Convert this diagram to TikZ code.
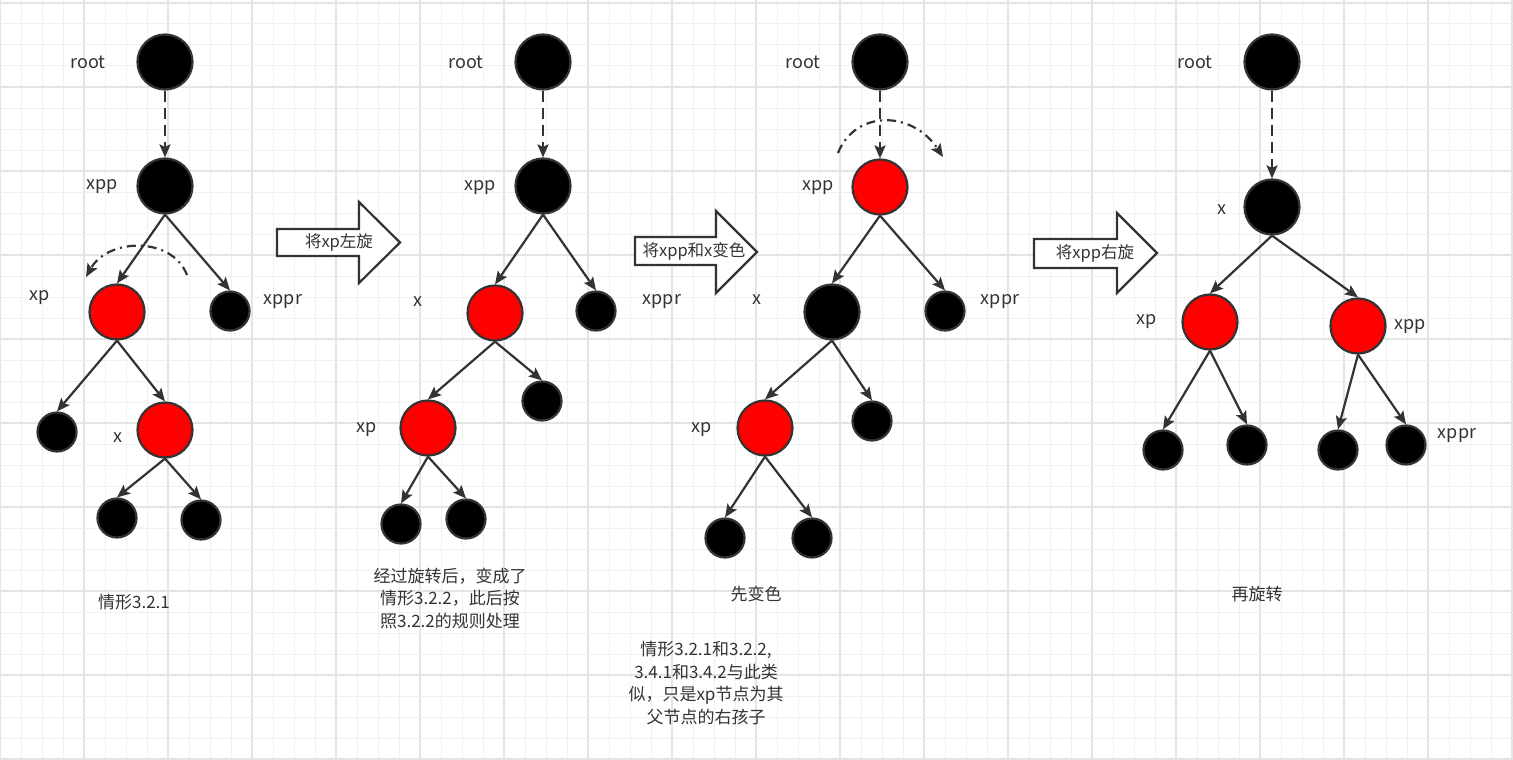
\documentclass[tikz,border=0pt]{standalone}
\usepackage{fontspec}
\setmainfont{Noto Sans CJK SC}
\usetikzlibrary{arrows.meta}
\definecolor{ink}{HTML}{333333}
\definecolor{gminor}{HTML}{F0F0F0}
\definecolor{gmajor}{HTML}{E4E4E4}
\begin{document}
\begin{tikzpicture}[x=1pt,y=-1pt,
  gridminor/.style={draw=gminor, line width=1pt},
  gridmajor/.style={draw=gmajor, line width=1.4pt},
  nd/.style={circle, draw=ink, line width=2.2pt, inner sep=0pt, minimum size=55pt},
  bn/.style={nd, fill=black},
  rn/.style={nd, fill=red},
  sn/.style={nd, fill=black, minimum size=39pt},
  lbl/.style={text=ink, font=\fontsize{18}{20}\selectfont, inner sep=0pt},
  captext/.style={text=ink, font=\fontsize{17}{22.5}\selectfont, align=center, inner sep=0pt},
  atext/.style={text=ink, font=\fontsize{16.5}{18}\selectfont, inner sep=0pt},
  edge/.style={draw=ink, line width=2.2pt, -{Stealth[length=13pt,width=11pt,inset=2.5pt]}},
  dedge/.style={edge, dash pattern=on 11pt off 6pt},
  rot/.style={draw=ink, line width=2.2pt, dash pattern=on 9pt off 5pt on 2pt off 5pt, -{Stealth[length=13pt,width=11pt,inset=2.5pt]}},
  barrow/.style={draw=ink, line width=2.2pt, fill=white, line join=miter}
]
\useasboundingbox (0,0) rectangle (1513,760);
\fill[white] (0,0) rectangle (1513,760);
% grid
\foreach \k in {0,...,72} {
  \pgfmathtruncatemacro{\m}{mod(\k,4)}
  \ifnum\m=0 \draw[gridmajor] (21*\k,0) -- (21*\k,760);
  \else \draw[gridminor] (21*\k,0) -- (21*\k,760); \fi
}
\foreach \k in {0,...,36} {
  \pgfmathtruncatemacro{\m}{mod(\k,4)}
  \ifnum\m=0 \draw[gridmajor] (0,3+21*\k) -- (1513,3+21*\k);
  \else \draw[gridminor] (0,3+21*\k) -- (1513,3+21*\k); \fi
}

% ---------------- Panel 1 ----------------
\node[bn] (r1) at (165,62) {};
\node[bn] (xpp1) at (165,186) {};
\node[rn] (xp1) at (117,312) {};
\node[sn] (xppr1) at (230,311) {};
\node[sn] (l1a) at (57,432) {};
\node[rn] (x1) at (165,430) {};
\node[sn] (l1b) at (117,518) {};
\node[sn] (l1c) at (201,520) {};
\node[lbl] (t1root) at (88,62) {root};
\node[lbl] (t1xpp) at (102,187) {xpp};
\node[lbl] (t1xp) at (40,298) {xp};
\node[lbl] (t1xppr) at (283,302) {xppr};
\node[lbl] (t1x) at (118,438) {x};
\node[captext] (c1) at (134,602) {情形3.2.1};
\draw[dedge] (r1.south) -- (xpp1.north);
\draw[edge] (xpp1.south) -- (xp1.north);
\draw[edge] (xpp1.south) -- (xppr1.north);
\draw[edge] (xp1.south) -- (l1a.north);
\draw[edge] (xp1.south) -- (x1.north);
\draw[edge] (x1.south) -- (l1b.north);
\draw[edge] (x1.south) -- (l1c.north);
\coordinate (a1s) at (187,275);
\coordinate (a1e) at (86,277);
\draw[rot] (a1s) .. controls (172,236) and (108,238) .. (a1e);

% block arrow 1
\draw[barrow] (277,229) -- (359,229) -- (359,202) -- (400,242.5) -- (359,283) -- (359,256) -- (277,256) -- cycle;
\node[atext] (at1) at (339,242.5) {将xp左旋};

% ---------------- Panel 2 ----------------
\node[bn] (r2) at (543,62) {};
\node[bn] (xpp2) at (543,186) {};
\node[rn] (x2) at (495,313) {};
\node[sn] (xppr2) at (596,311) {};
\node[rn] (xp2) at (428,428) {};
\node[sn] (s2) at (542,401) {};
\node[sn] (l2a) at (401,524) {};
\node[sn] (l2b) at (466,519) {};
\node[lbl] (t2root) at (466,62) {root};
\node[lbl] (t2xpp) at (480,188) {xpp};
\node[lbl] (t2x) at (418,302) {x};
\node[lbl] (t2xppr) at (662,302) {xppr};
\node[lbl] (t2xp) at (367,430) {xp};
\node[captext] (c2) at (450,598) {经过旋转后，变成了\\情形3.2.2，此后按\\照3.2.2的规则处理};
\draw[dedge] (r2.south) -- (xpp2.north);
\draw[edge] (xpp2.south) -- (x2.north);
\draw[edge] (xpp2.south) -- (xppr2.north);
\draw[edge] (x2.south) -- (xp2.north);
\draw[edge] (x2.south) -- (s2.north);
\draw[edge] (xp2.south) -- (l2a.north);
\draw[edge] (xp2.south) -- (l2b.north);

% block arrow 2
\draw[barrow] (635,237) -- (716,237) -- (716,211) -- (757,252) -- (716,293) -- (716,265) -- (635,265) -- cycle;
\node[atext] (at2) at (694,251) {将xpp和x变色};

% ---------------- Panel 3 ----------------
\node[bn] (r3) at (880,62) {};
\node[rn] (xpp3) at (880,187) {};
\node[bn] (x3) at (832,312) {};
\node[sn] (xppr3) at (945,311) {};
\node[rn] (xp3) at (765,428) {};
\node[sn] (s3) at (872,421) {};
\node[sn] (l3a) at (725,538) {};
\node[sn] (l3b) at (812,538) {};
\node[lbl] (t3root) at (803,62) {root};
\node[lbl] (t3xpp) at (818,188) {xpp};
\node[lbl] (t3x) at (757,300) {x};
\node[lbl] (t3xppr) at (1000,302) {xppr};
\node[lbl] (t3xp) at (702,430) {xp};
\node[captext] (c3) at (756,594) {先变色};
\node[captext] (c5) at (706,683) {情形3.2.1和3.2.2,\\3.4.1和3.4.2与此类\\似，只是xp节点为其\\父节点的右孩子};
\draw[dedge] (r3.south) -- (xpp3.north);
\draw[edge] (xpp3.south) -- (x3.north);
\draw[edge] (xpp3.south) -- (xppr3.north);
\draw[edge] (x3.south) -- (xp3.north);
\draw[edge] (x3.south) -- (s3.north);
\draw[edge] (xp3.south) -- (l3a.north);
\draw[edge] (xp3.south) -- (l3b.north);
\coordinate (a3s) at (838,153);
\coordinate (a3e) at (943,157);
\draw[rot] (a3s) .. controls (855,110) and (912,110) .. (a3e);

% block arrow 3
\draw[barrow] (1034,239) -- (1117,239) -- (1117,213) -- (1157,253) -- (1117,293) -- (1117,268) -- (1034,268) -- cycle;
\node[atext] (at3) at (1095,253) {将xpp右旋};

% ---------------- Panel 4 ----------------
\node[bn] (r4) at (1272,62) {};
\node[bn] (x4) at (1272,207) {};
\node[rn] (xp4) at (1210,322) {};
\node[rn] (xpp4) at (1358,326) {};
\node[sn] (l4a) at (1163,450) {};
\node[sn] (l4b) at (1247,445) {};
\node[sn] (l4c) at (1338,450) {};
\node[sn] (l4d) at (1406,445) {};
\node[lbl] (t4root) at (1195,62) {root};
\node[lbl] (t4x) at (1222,210) {x};
\node[lbl] (t4xp) at (1147,322) {xp};
\node[lbl] (t4xpp) at (1410,327) {xpp};
\node[lbl] (t4xppr) at (1457,436) {xppr};
\node[captext] (c4) at (1257,594) {再旋转};
\draw[dedge] (r4.south) -- (x4.north);
\draw[edge] (x4.south) -- (xp4.north);
\draw[edge] (x4.south) -- (xpp4.north);
\draw[edge] (xp4.south) -- (l4a.north);
\draw[edge] (xp4.south) -- (l4b.north);
\draw[edge] (xpp4.south) -- (l4c.north);
\draw[edge] (xpp4.south) -- (l4d.north);
\end{tikzpicture}
\end{document}
